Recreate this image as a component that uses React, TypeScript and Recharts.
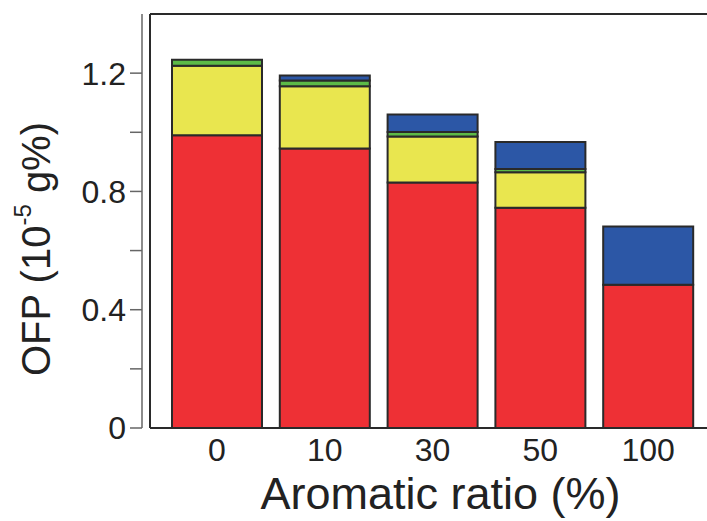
import React from 'react'
import { BarChart, Bar, XAxis, YAxis, ReferenceLine } from 'recharts'

// Aromatic ratio categories and OFP contributions (10^-5 g%)
const ratios = ['0', '10', '30', '50', '100']
const redPart = [0.99, 0.945, 0.83, 0.745, 0.484]
const yellowPart = [0.235, 0.211, 0.156, 0.12, 0]
const greenPart = [0.02, 0.019, 0.015, 0.011, 0]
const bluePart = [0, 0.017, 0.059, 0.091, 0.197]
const yTicks = [0, 0.2, 0.4, 0.6, 0.8, 1.0, 1.2]
const yLabels = [0, 0.4, 0.8, 1.2]

const data = ratios.map((r, i) => ({
  ratio: r,
  red: redPart[i],
  yellow: yellowPart[i],
  green: greenPart[i],
  blue: bluePart[i],
}))

const FONT = '"Liberation Sans", Arial, Helvetica, sans-serif'
const INK = '#222'
const EDGE = '#2a2a2a'

function YTitle(props: any) {
  const vb = props.viewBox || { x: 0, y: 0, width: 0, height: 0 }
  const cx = vb.x + 36
  const cy = vb.y + vb.height / 2 + 28
  return (
    <text
      x={cx}
      y={cy}
      transform={`rotate(-90, ${cx}, ${cy})`}
      textAnchor="middle"
      dominantBaseline="central"
      fontFamily={FONT}
      fontSize={40}
      fill={INK}
    >
      <tspan>OFP (10</tspan>
      <tspan fontSize={24} dy={-14}>-5</tspan>
      <tspan dy={14}> g%)</tspan>
    </text>
  )
}

function XTitle(props: any) {
  const vb = props.viewBox || { x: 0, y: 0, width: 0, height: 0 }
  return (
    <text
      x={vb.x + vb.width / 2 + 12}
      y={vb.y + 81}
      textAnchor="middle"
      fontFamily={FONT}
      fontSize={45}
      fill={INK}
    >
      Aromatic ratio (%)
    </text>
  )
}

export default function App() {
  return (
    <div style={{ position: 'absolute', left: 0, top: 0, width: 707, height: 521, background: '#fff' }}>
      <BarChart
        width={707}
        height={521}
        data={data}
        margin={{ top: 14, right: 0, bottom: 0, left: 0 }}
      >
        <XAxis
          dataKey="ratio"
          height={93}
          padding={{ left: 13, right: 5 }}
          tickLine={false}
          axisLine={{ stroke: EDGE, strokeWidth: 2 }}
          tick={{ fontSize: 32, fill: INK, fontFamily: FONT }}
          tickMargin={4}
          label={{ content: XTitle }}
        />
        {/* inner axis = left border of the frame */}
        <YAxis
          yAxisId="frame"
          width={8}
          domain={[0, 1.4]}
          ticks={yTicks}
          tick={false}
          tickLine={false}
          axisLine={{ stroke: EDGE, strokeWidth: 2 }}
        />
        <YAxis
          yAxisId="v"
          width={142}
          domain={[0, 1.4]}
          ticks={yTicks}
          interval={0}
          tickSize={12}
          tickMargin={4}
          tickLine={{ stroke: '#666', strokeWidth: 1.5 }}
          axisLine={{ stroke: '#666', strokeWidth: 1.5 }}
          tickFormatter={(v: number) =>
            yLabels.some((l) => Math.abs(l - v) < 1e-6) ? (v === 0 ? '0' : v.toFixed(1)) : ''
          }
          tick={{ fontSize: 32, fill: INK, fontFamily: FONT }}
          label={{ content: YTitle }}
        />
        <ReferenceLine yAxisId="v" y={1.4} stroke={EDGE} strokeWidth={2} />
        <Bar yAxisId="v" dataKey="red" stackId="s" barSize={90} fill="#ee3035" stroke={EDGE} strokeWidth={2} isAnimationActive={false} />
        <Bar yAxisId="v" dataKey="yellow" stackId="s" barSize={90} fill="#e9e64f" stroke={EDGE} strokeWidth={2} isAnimationActive={false} />
        <Bar yAxisId="v" dataKey="green" stackId="s" barSize={90} fill="#5cba47" stroke={EDGE} strokeWidth={2} isAnimationActive={false} />
        <Bar yAxisId="v" dataKey="blue" stackId="s" barSize={90} fill="#2c57a6" stroke={EDGE} strokeWidth={2} isAnimationActive={false} />
      </BarChart>
    </div>
  )
}
